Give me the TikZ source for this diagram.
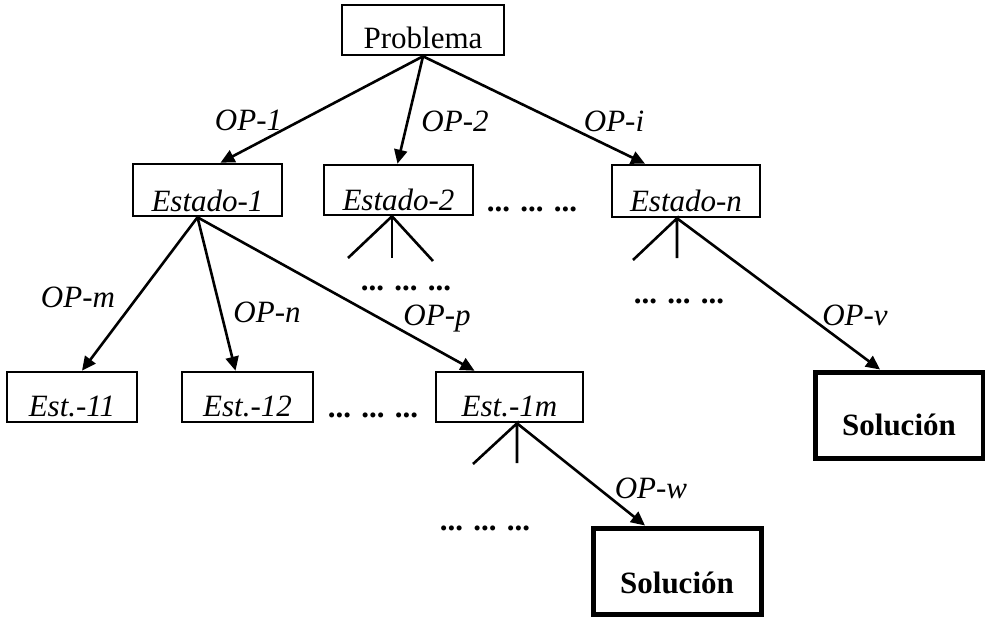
\documentclass[tikz,border=0pt]{standalone}
\usepackage{fontspec}
\setmainfont{Liberation Serif}
\usetikzlibrary{arrows.meta}
\begin{document}
\begin{tikzpicture}[x=1pt,y=-1pt,
  txt/.style={font=\fontsize{31}{31}\selectfont},
  state/.style={txt, draw, line width=2.6pt, inner xsep=0pt, inner ysep=0pt,
    minimum width=#1, font=\fontsize{31}{31}\selectfont\itshape},
  root/.style={txt, draw, line width=2.6pt, inner xsep=0pt, inner ysep=0pt,
    minimum width=#1},
  goal/.style={draw, line width=5pt, inner xsep=0pt, inner ysep=0pt,
    minimum width=#1, font=\fontsize{31}{31}\selectfont\bfseries},
  op/.style={anchor=base, inner sep=0pt, font=\fontsize{31}{31}\selectfont\itshape},
  more/.style={anchor=base, inner sep=0pt, font=\fontsize{31}{31}\selectfont\bfseries},
  arr/.style={line width=2.6pt, -{Triangle[length=14pt,width=13pt]}},
  stub/.style={line width=2.6pt}]
\useasboundingbox (0,0) rectangle (985,616);

% boxes
\node[root=162, text height=43pt, text depth=7pt] (P) at (423,30) {Problema};
\node[state=149, text height=47pt, text depth=5pt] (E1) at (207.5,190) {Estado-1};
\node[state=149, text height=45pt, text depth=5pt] (E2) at (398.5,190) {Estado-2};
\node[state=148, text height=46pt, text depth=6pt] (En) at (686,191) {Estado-n};
\node[state=130, text height=44pt, text depth=6pt] (E11) at (72,397) {Est.-11};
\node[state=131, text height=44pt, text depth=6pt] (E12) at (247.5,397) {Est.-12};
\node[state=147, text height=44pt, text depth=6pt] (E1m) at (509.5,397) {Est.-1m};
\node[goal=168, text height=63pt, text depth=23pt] (S1) at (899,415) {Solución};
\node[goal=168, text height=65pt, text depth=21pt] (S2) at (677,571) {Solución};

% omitted siblings / subtrees
\node[more] (d1) at (532,211) {... ... ...};
\node[more] (d2) at (406,290) {... ... ...};
\node[more] (d3) at (679,303) {... ... ...};
\node[more] (d4) at (373,417) {... ... ...};
\node[more] (d5) at (485,530) {... ... ...};

% branching points
\coordinate (e1a) at ([xshift=-10pt]E1.south);
\coordinate (e2a) at ([xshift=-6.5pt]E2.south);
\coordinate (ena) at ([xshift=-9pt]En.south);
\coordinate (ema) at ([xshift=7.5pt]E1m.south);

% operators from the problem
\draw[arr] (P.south) -- ([xshift=13pt]E1.north);
\draw[arr] (P.south) -- ([xshift=-1pt]E2.north);
\draw[arr] (P.south) -- ([xshift=-41pt]En.north);
\node[op] (l1) at (248.5,130) {OP-1};
\node[op] (l2) at (455,131) {OP-2};
\node[op] (li) at (614,131) {OP-i};

% operators from Estado-1
\draw[arr] (e1a) -- ([xshift=10pt]E11.north);
\draw[arr] (e1a) -- ([xshift=-12pt]E12.north);
\draw[arr] (e1a) -- ([xshift=-35pt]E1m.north);
\node[op] (lm) at (78,307) {OP-m};
\node[op] (ln) at (267,322) {OP-n};
\node[op] (lp) at (437,325) {OP-p};

% unexpanded subtree of Estado-2
\coordinate (e2l) at (348,258);
\coordinate (e2v) at (392,258);
\coordinate (e2r) at (433,261);
\draw[stub] (e2l) -- (e2a) -- (e2r);
\draw[stub] (e2a) -- (e2v);

% subtree of Estado-n
\coordinate (enl) at (633,260);
\coordinate (env) at (677,258);
\draw[stub] (enl) -- (ena) -- (env);
\draw[arr] (ena) -- ([xshift=-19pt]S1.north);
\node[op] (lv) at (855,325) {OP-v};

% subtree of Est.-1m
\coordinate (eml) at (473,464);
\coordinate (emv) at (517,463);
\draw[stub] (eml) -- (ema) -- (emv);
\draw[arr] (ema) -- ([xshift=-32pt]S2.north);
\node[op] (lw) at (651,498) {OP-w};
\end{tikzpicture}
\end{document}
